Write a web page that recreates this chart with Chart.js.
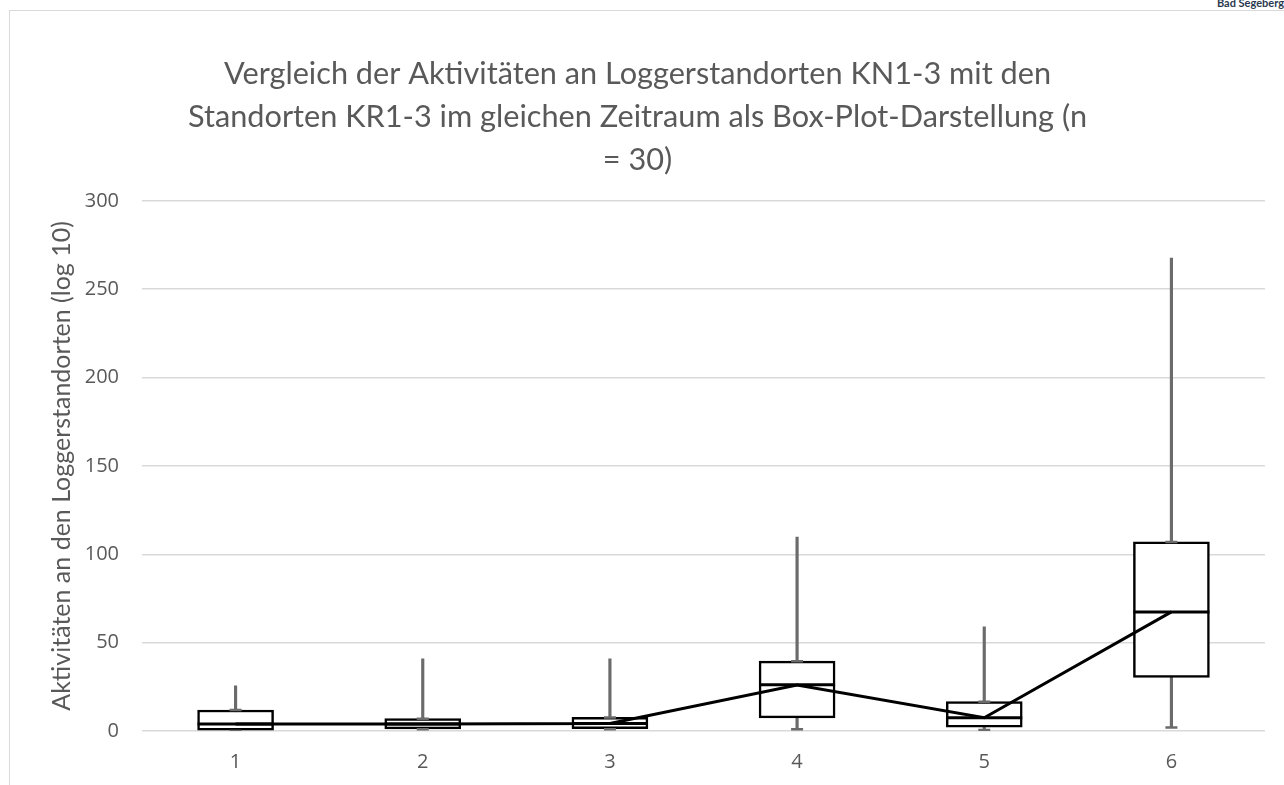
<!DOCTYPE html>
<html lang="de">
<head>
<meta charset="utf-8">
<title>Box-Plot KN1-3 / KR1-3</title>
<script src="https://cdn.jsdelivr.net/npm/chart.js@4.4.1/dist/chart.umd.min.js"></script>
<style>
    html, body { margin: 0; padding: 0; background: #fff; }
    body { width: 1284px; height: 785px; position: relative; overflow: hidden; }
    #rahmen {
        position: absolute; left: 9px; top: 10px; width: 1400px; height: 900px;
        border-left: 1px solid #d9d9d9; border-top: 1px solid #d9d9d9;
    }
    #logo {
        position: absolute; right: 0; top: -3px;
        font: bold 11px Lato, sans-serif; line-height: 11px; color: #2b3a4f;
    }
    #chartBox { position: absolute; left: 0; top: 0; width: 1284px; height: 785px; }
</style>
</head>
<body>
<div id="rahmen"></div>
<div id="logo">Bad Segeberg</div>
<div id="chartBox"><canvas id="boxChart"></canvas></div>
<script>
// --- Daten ---
const kategorien = ['1', '2', '3', '4', '5', '6'];
const minimum    = [0, 1, 1, 1, 0.5, 2];
const quartil1   = [0, 1.2, 1.3, 7.4, 2.1, 30.3];
const median     = [4, 4, 4.3, 26.2, 7.5, 67.4];
const quartil3   = [11.9, 7, 7.7, 39.5, 16.6, 107];
const maximum    = [25.6, 40.8, 40.8, 109.7, 58.9, 267.6];
const mittelwert = [3.9, 4, 4.3, 26, 7.5, 67.4];

const titelZeilen = [
    'Vergleich der Aktivitäten an Loggerstandorten KN1-3 mit den',
    'Standorten KR1-3 im gleichen Zeitraum als Box-Plot-Darstellung (n',
    '= 30)'
];
const yTitel = 'Aktivitäten an den Loggerstandorten (log 10)';

// --- Hilfsfunktionen ---
const spanne = (unten, oben) => unten.map((u, i) => [u, oben[i]]);

const GRAU_TEXT = '#595959';
const GRAU_WHISKER = '#6b6b6b';

function zeichneDiagramm() {
    const ctx = document.getElementById('boxChart').getContext('2d');
    new Chart(ctx, {
        type: 'bar',
        data: {
            labels: kategorien,
            datasets: [
                {
                    type: 'line',
                    label: 'Mittelwert',
                    data: mittelwert,
                    borderColor: '#000',
                    borderWidth: 3,
                    pointRadius: 0,
                    tension: 0,
                    order: 0
                },
                {
                    type: 'line',
                    label: 'Median',
                    data: median,
                    showLine: false,
                    pointStyle: 'line',
                    pointRadius: 38,
                    pointBorderWidth: 3,
                    pointBorderColor: '#000',
                    borderColor: '#000',
                    order: 1
                },
                {
                    type: 'line',
                    label: 'Q3-Marke',
                    data: quartil3,
                    showLine: false,
                    pointStyle: 'line',
                    pointRadius: 6,
                    pointBorderWidth: 2.5,
                    pointBorderColor: GRAU_WHISKER,
                    borderColor: GRAU_WHISKER,
                    order: 2
                },
                {
                    type: 'line',
                    label: 'Minimum-Marke',
                    data: minimum,
                    showLine: false,
                    pointStyle: 'line',
                    pointRadius: 6,
                    pointBorderWidth: 2.5,
                    pointBorderColor: GRAU_WHISKER,
                    borderColor: GRAU_WHISKER,
                    order: 2
                },
                {
                    label: 'Box',
                    data: spanne(quartil1, quartil3),
                    backgroundColor: '#fff',
                    borderColor: '#000',
                    borderWidth: 2.5,
                    borderSkipped: false,
                    barThickness: 76,
                    grouped: false,
                    order: 3
                },
                {
                    label: 'Whisker',
                    data: spanne(minimum, maximum),
                    backgroundColor: GRAU_WHISKER,
                    borderWidth: 0,
                    barThickness: 2.5,
                    grouped: false,
                    order: 4
                }
            ]
        },
        options: {
            responsive: true,
            maintainAspectRatio: false,
            animation: false,
            layout: { autoPadding: false, padding: { left: 10, right: 19, top: 0, bottom: 11 } },
            plugins: {
                legend: { display: false },
                tooltip: { enabled: false },
                title: {
                    display: true,
                    text: titelZeilen,
                    color: GRAU_TEXT,
                    font: { family: 'Lato', size: 30.7, weight: 'normal', lineHeight: 1.41 },
                    padding: { top: 52, bottom: 19 }
                }
            },
            scales: {
                x: {
                    grid: { display: false, drawTicks: false },
                    border: { display: false },
                    ticks: { color: GRAU_TEXT, font: { family: 'Open Sans', size: 20 }, padding: 19 },
                    afterFit: (achse) => { achse.height = 43; }
                },
                y: {
                    min: 0,
                    max: 300,
                    ticks: { stepSize: 50, color: GRAU_TEXT, font: { family: 'Open Sans', size: 20 }, padding: 23 },
                    grid: { color: '#d9d9d9', lineWidth: 1.5, drawTicks: false },
                    border: { display: false },
                    title: {
                        display: true,
                        text: yTitel,
                        color: GRAU_TEXT,
                        font: { family: 'Lato', size: 25 },
                        padding: { top: 37, bottom: 8 }
                    },
                    afterFit: (achse) => { achse.width = 132; }
                }
            }
        }
    });
}

document.addEventListener('DOMContentLoaded', zeichneDiagramm);
</script>
</body>
</html>
